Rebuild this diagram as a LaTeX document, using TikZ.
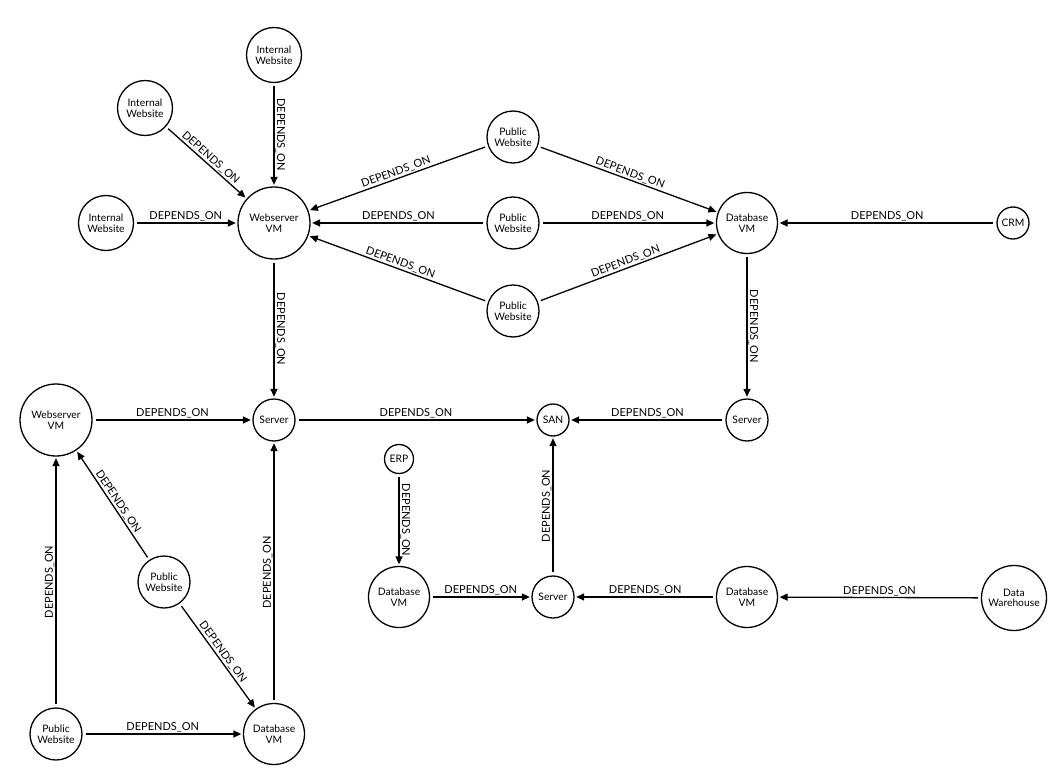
\documentclass[tikz,border=0pt]{standalone}
\usepackage{fontspec}
\setmainfont{Lato}
\usetikzlibrary{arrows.meta}
\begin{document}
\begin{tikzpicture}[x=1pt,y=-1pt,
  nd/.style={circle,draw,line width=1.3pt,inner sep=0pt,align=center,font=\fontsize{10.3}{10.5}\selectfont},
  dep/.style={-{Triangle[length=8pt,width=7pt]},line width=1.3pt,shorten <=3pt,shorten >=1.5pt},
  lbl/.style={sloped,above,inner sep=1pt,font=\fontsize{11}{12}\selectfont}]
\useasboundingbox (0,0) rectangle (1061,784);
% nodes
\node[nd,minimum size=55pt] (iw1) at (274,55) {Internal\\Website};
\node[nd,minimum size=55pt] (iw2) at (145,108) {Internal\\Website};
\node[nd,minimum size=55pt] (iw3) at (106,223) {Internal\\Website};
\node[nd,minimum size=72pt] (wvm1) at (274,223) {Webserver\\VM};
\node[nd,minimum size=52pt] (pw1) at (513,137) {Public\\Website};
\node[nd,minimum size=52pt] (pw2) at (513,223) {Public\\Website};
\node[nd,minimum size=52pt] (pw3) at (513,311) {Public\\Website};
\node[nd,minimum size=61pt] (dvm1) at (747,223) {Database\\VM};
\node[nd,minimum size=32pt] (crm) at (1013,223) {CRM};
\node[nd,minimum size=42pt] (s1) at (274,420) {Server};
\node[nd,minimum size=32pt] (san) at (553,420) {SAN};
\node[nd,minimum size=42pt] (s2) at (747,420) {Server};
\node[nd,minimum size=72pt] (wvm2) at (56,420) {Webserver\\VM};
\node[nd,minimum size=29pt] (erp) at (399,459) {ERP};
\node[nd,minimum size=52pt] (pw4) at (164,582) {Public\\Website};
\node[nd,minimum size=61pt] (dvm2) at (399,597) {Database\\VM};
\node[nd,minimum size=42pt] (s3) at (553,597) {Server};
\node[nd,minimum size=61pt] (dvm3) at (747,597) {Database\\VM};
\node[nd,minimum size=65pt] (dw) at (1014,598) {Data\\Warehouse};
\node[nd,minimum size=52pt] (pw5) at (56,734) {Public\\Website};
\node[nd,minimum size=61pt] (dvm4) at (274,734) {Database\\VM};
% edges
\draw[dep] (iw1) -- node[lbl]{DEPENDS\_ON} (wvm1);
\draw[dep] (iw2) -- node[lbl]{DEPENDS\_ON} (wvm1);
\draw[dep] (iw3) -- node[lbl]{DEPENDS\_ON} (wvm1);
\draw[dep] (pw1) -- node[lbl]{DEPENDS\_ON} (wvm1);
\draw[dep] (pw2) -- node[lbl]{DEPENDS\_ON} (wvm1);
\draw[dep] (pw3) -- node[lbl]{DEPENDS\_ON} (wvm1);
\draw[dep] (pw1) -- node[lbl]{DEPENDS\_ON} (dvm1);
\draw[dep] (pw2) -- node[lbl]{DEPENDS\_ON} (dvm1);
\draw[dep] (pw3) -- node[lbl]{DEPENDS\_ON} (dvm1);
\draw[dep] (crm) -- node[lbl]{DEPENDS\_ON} (dvm1);
\draw[dep] (wvm1) -- node[lbl]{DEPENDS\_ON} (s1);
\draw[dep] (dvm1) -- node[lbl]{DEPENDS\_ON} (s2);
\draw[dep] (wvm2) -- node[lbl]{DEPENDS\_ON} (s1);
\draw[dep] (s1) -- node[lbl]{DEPENDS\_ON} (san);
\draw[dep] (s2) -- node[lbl]{DEPENDS\_ON} (san);
\draw[dep] (s3) -- node[lbl]{DEPENDS\_ON} (san);
\draw[dep] (erp) -- node[lbl]{DEPENDS\_ON} (dvm2);
\draw[dep] (dvm2) -- node[lbl]{DEPENDS\_ON} (s3);
\draw[dep] (dvm3) -- node[lbl]{DEPENDS\_ON} (s3);
\draw[dep] (dw) -- node[lbl]{DEPENDS\_ON} (dvm3);
\draw[dep] (pw4) -- node[lbl]{DEPENDS\_ON} (wvm2);
\draw[dep] (pw4) -- node[lbl]{DEPENDS\_ON} (dvm4);
\draw[dep] (pw5) -- node[lbl]{DEPENDS\_ON} (wvm2);
\draw[dep] (pw5) -- node[lbl]{DEPENDS\_ON} (dvm4);
\draw[dep] (dvm4) -- node[lbl]{DEPENDS\_ON} (s1);
\end{tikzpicture}
\end{document}
